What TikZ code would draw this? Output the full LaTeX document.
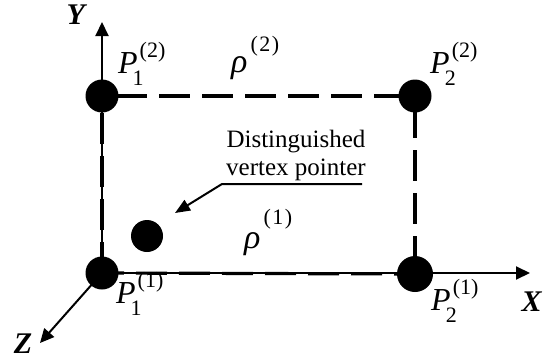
\documentclass[tikz,border=0pt]{standalone}
\usepackage{fontspec}
\setmainfont{Liberation Serif}
\usetikzlibrary{arrows.meta}
\newcommand{\Plab}[2]{\fontsize{32}{32}\selectfont\textit{P}\kern-5pt\rlap{\raisebox{-12pt}{\fontsize{22}{22}\selectfont #1}}\kern7pt\raisebox{16pt}{\fontsize{22}{22}\selectfont(#2)}}
\newcommand{\Rlab}[2]{\fontsize{34}{34}\selectfont\textit{ρ}\kern3pt\raisebox{#2}{\fontsize{22}{22}\selectfont(\kern1.5pt#1\kern1.5pt)}}
\newcommand{\Axl}[1]{\fontsize{30}{30}\selectfont\textbf{\textit{#1}}}
\begin{document}
\begin{tikzpicture}[x=1pt,y=-1pt,
  dot/.style={circle,fill=black,inner sep=0pt,minimum size=33pt},
  axis/.style={line width=2pt,-{Triangle[length=14pt,width=13pt]}},
  edge/.style={line width=3.2pt,dash pattern=on 31pt off 12pt},
  lab/.style={inner sep=0pt,anchor=base west}]
\useasboundingbox (0,0) rectangle (543,356);
\coordinate (p11) at (102,273);
\coordinate (p12) at (102,96);
\coordinate (p22) at (415,96);
\coordinate (p21) at (415,274);
\coordinate (ytip) at (102,22);
\coordinate (xtip) at (530,273);
\coordinate (ztip) at (40,343);
\coordinate (ur) at (362,184);
\coordinate (ul) at (222,184);
\coordinate (ptr) at (175,213);
% axes
\draw[axis] (p11) -- (ytip);
\draw[axis] (p11) -- (xtip);
\draw[axis] (p11) -- (ztip);
% edges
\draw[edge,dash phase=0pt] (p11) -- (p12);
\draw[edge,dash phase=29pt] (p12) -- (p22);
\draw[edge,dash phase=32pt] (p22) -- (p21);
\draw[edge,dash phase=9pt] (p11) -- (p21);
% dots
\node[dot] (d11) at (p11) {};
\node[dot] (d12) at (p12) {};
\node[dot] (d22) at (p22) {};
\node[dot,minimum width=36pt,minimum height=34pt] (d21) at (p21) {};
\node[dot,minimum size=32pt] (dv) at (147,236) {};
% pointer
\draw[line width=2pt,-{Triangle[length=15pt,width=12pt]}] (ur) -- (ul) -- (ptr);
\node[inner sep=0pt,align=center,font=\fontsize{25}{28}\selectfont] (txt) at (296,155) {Distinguished\\vertex pointer};
% labels
\node[lab] (l12) at (118,73) {\Plab{1}{2}};
\node[lab] (l22) at (430,73) {\Plab{2}{2}};
\node[lab] (l11) at (116,303) {\Plab{1}{1}};
\node[lab] (l21) at (431,310) {\Plab{2}{1}};
\node[lab] (r2) at (231,72) {\Rlab{2}{21pt}};
\node[lab] (r1) at (244,248) {\Rlab{1}{24pt}};
\node[inner sep=0pt] (ly) at (77,15) {\Axl{Y}};
\node[inner sep=0pt] (lx) at (532,302) {\Axl{X}};
\node[inner sep=0pt] (lz) at (23,344) {\Axl{Z}};
\end{tikzpicture}
\end{document}
